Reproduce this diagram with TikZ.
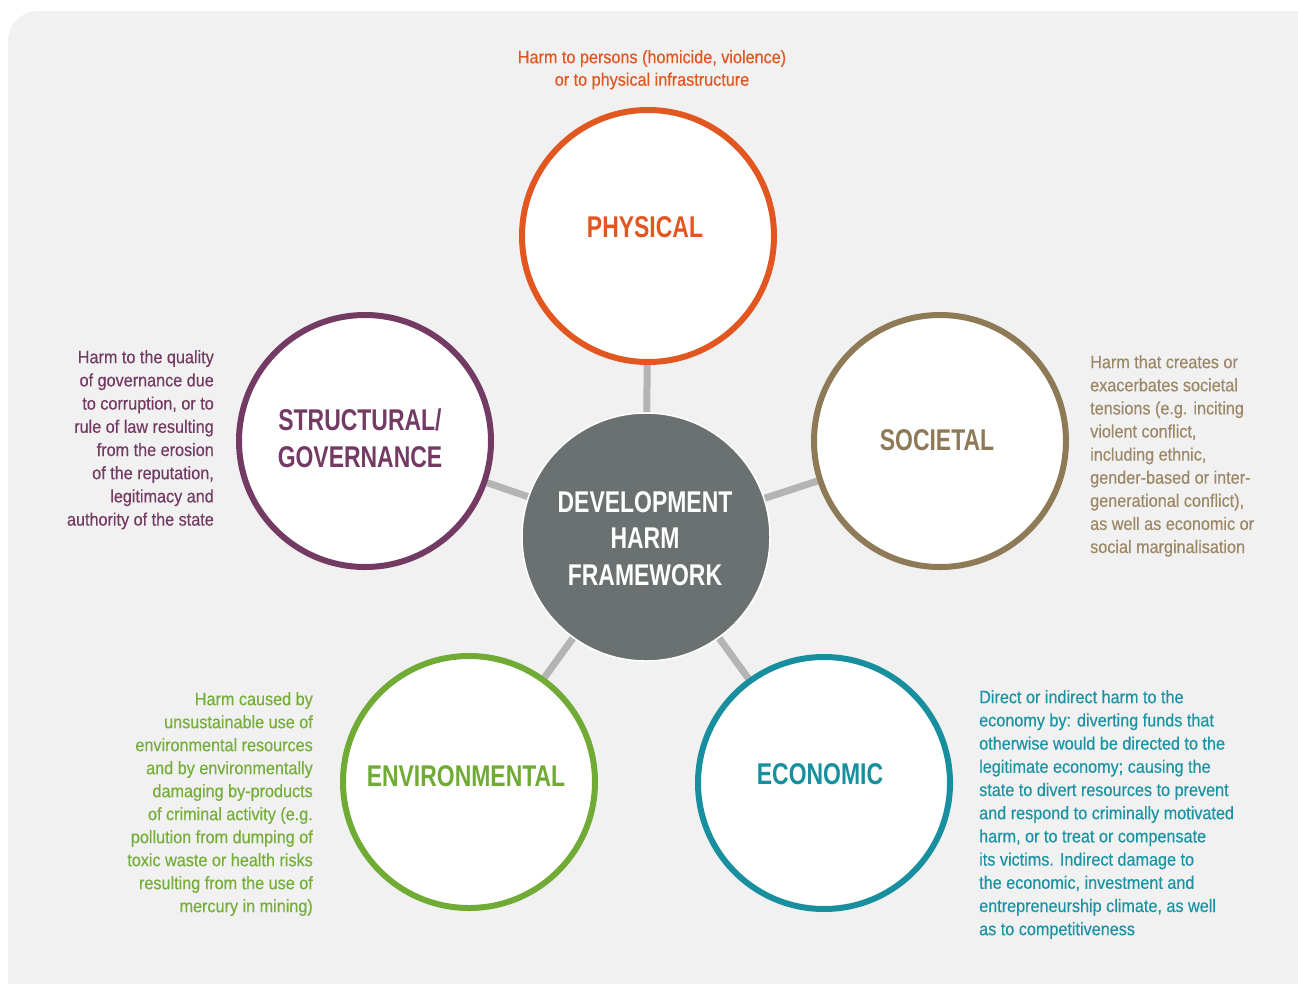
\documentclass[tikz,border=0pt]{standalone}
\usepackage{fontspec}
\setmainfont{Liberation Sans}
\newfontfamily\bodyfont{Liberation Sans}[FakeStretch=0.9, FakeBold=0.35]
\newfontfamily\titlefont{Liberation Sans}[FakeStretch=0.765]
\usetikzlibrary{backgrounds}
\definecolor{bggray}{HTML}{F1F1F1}
\definecolor{linkgray}{HTML}{B4B4B4}
\definecolor{cHub}{HTML}{6A7170}
\definecolor{cPhys}{HTML}{E2561F}
\definecolor{cStruct}{HTML}{733B63}
\definecolor{cSoc}{HTML}{8E7A57}
\definecolor{cSocT}{HTML}{9C8866}
\definecolor{cEnv}{HTML}{70AB35}
\definecolor{cEnvT}{HTML}{76AE3A}
\definecolor{cEco}{HTML}{178F9E}
\definecolor{cEcoT}{HTML}{1A93A4}
\newcommand{\firstline}{\rule{0pt}{16pt}}
\newcommand{\firsttitle}{\rule{0pt}{24pt}}
\begin{document}
\begin{tikzpicture}[x=1pt,y=-1pt,
  ring/.style={circle, draw, line width=6pt, fill=white, minimum size=252pt, inner sep=0pt},
  titletext/.style={font=\titlefont\bfseries\fontsize{30}{36.5}\selectfont, inner sep=0pt, align=center},
  bodytext/.style={font=\bodyfont\fontsize{18}{23.2}\selectfont, inner sep=0pt},
  link/.style={draw=linkgray, line width=7pt}]

\useasboundingbox (0,0) rectangle (1298,983);

% circles
\node[ring, draw=cPhys] (phys) at (648,236) {};
\node[ring, draw=cStruct] (struct) at (365,441) {};
\node[ring, draw=cSoc] (soc) at (940,441) {};
\node[ring, draw=cEnv] (env) at (469,782) {};
\node[ring, draw=cEco] (eco) at (824,783) {};
\node[circle, fill=cHub, draw=white, line width=1.5pt, minimum size=248pt, inner sep=0pt] (hub) at (646,537) {};

% titles
\node[titletext, text=cPhys, anchor=base] (physT) at (645,237) {PHYSICAL};
\node[titletext, text=cStruct, anchor=north, font=\titlefont\bfseries\fontsize{30}{37}\selectfont] (structT) at (360,406) {\firsttitle STRUCTURAL/\\GOVERNANCE};
\node[titletext, text=cSoc, anchor=base] (socT) at (937,450) {SOCIETAL};
\node[titletext, text=cEnv, anchor=base] (envT) at (466,786) {ENVIRONMENTAL};
\node[titletext, text=cEco, anchor=base] (ecoT) at (820,784) {ECONOMIC};
\node[titletext, text=white, anchor=north] (hubT) at (645,488) {\firsttitle DEVELOPMENT\\HARM\\FRAMEWORK};

% descriptions
\node[bodytext, text=cPhys, anchor=north, align=center, font=\bodyfont\fontsize{18}{22.5}\selectfont] (physD) at (652,47)
  {\firstline Harm to persons (homicide, violence)\\or to physical infrastructure};
\node[bodytext, text=cStruct, anchor=north east, align=right] (structD) at (214,347)
  {\firstline Harm to the quality\\of governance due\\to corruption, or to\\rule of law resulting\\from the erosion\\of the reputation,\\legitimacy and\\authority of the state};
\node[bodytext, text=cSocT, anchor=north west, align=left, font=\bodyfont\fontsize{18}{23.1}\selectfont] (socD) at (1090,352)
  {\firstline Harm that creates or\\exacerbates societal\\tensions (e.g. inciting\\violent conflict,\\including ethnic,\\gender-based or inter-\\generational conflict),\\as well as economic or\\social marginalisation};
\node[bodytext, text=cEnvT, anchor=north east, align=right, font=\bodyfont\fontsize{18}{23}\selectfont] (envD) at (313,689)
  {\firstline Harm caused by\\unsustainable use of\\environmental resources\\and by environmentally\\damaging by-products\\of criminal activity (e.g.\\pollution from dumping of\\toxic waste or health risks\\resulting from the use of\\mercury in mining)};
\node[bodytext, text=cEcoT, anchor=north west, align=left] (ecoD) at (979,687)
  {\firstline Direct or indirect harm to the\\economy by: diverting funds that\\otherwise would be directed to the\\legitimate economy; causing the\\state to divert resources to prevent\\and respond to criminally motivated\\harm, or to treat or compensate\\its victims. Indirect damage to\\the economic, investment and\\entrepreneurship climate, as well\\as to competitiveness};

% background and connectors
\begin{scope}[on background layer]
  \fill[bggray, rounded corners=30pt] (8,11) rectangle (1340,1030);
  \draw[link] (hub) -- (phys);
  \draw[link] (hub) -- (struct);
  \draw[link] (hub) -- (soc);
  \draw[link] (hub) -- (env);
  \draw[link] (hub) -- (eco);
\end{scope}
\end{tikzpicture}
\end{document}
